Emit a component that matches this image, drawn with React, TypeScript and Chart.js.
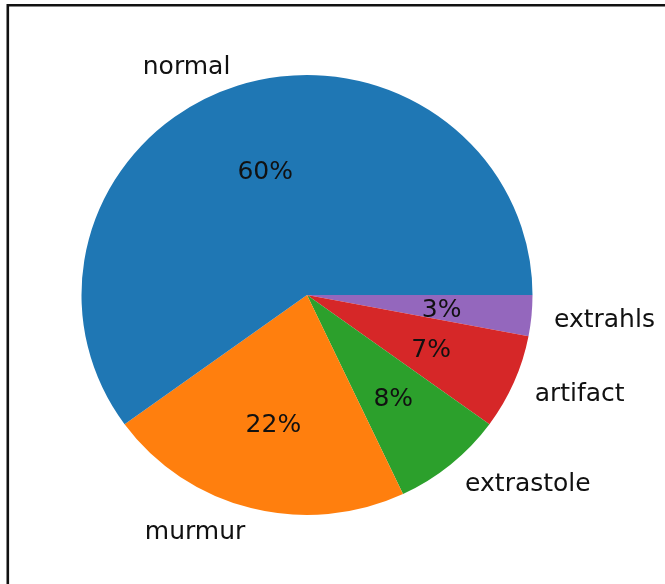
import React, { useEffect, useRef } from "react";
import { Chart, registerables } from "chart.js";

Chart.register(...registerables);

const categories = ["normal", "murmur", "extrastole", "artifact", "extrahls"];
const values = [60, 22, 8, 7, 3];
const colors = ["#1f77b4", "#ff7f0e", "#2ca02c", "#d62728", "#9467bd"];

const Y_SCALE = 220 / 225.5;
const FONT = '25px "DejaVu Sans", sans-serif';
const TEXT_DY = 3;

const ellipsePlugin = {
  id: "ellipse",
  beforeDatasetsDraw(chart: any) {
    const arc = chart.getDatasetMeta(0).data[0];
    const ctx = chart.ctx;
    ctx.save();
    ctx.translate(arc.x, arc.y);
    ctx.scale(1, Y_SCALE);
    ctx.translate(-arc.x, -arc.y);
  },
  afterDatasetsDraw(chart: any) {
    chart.ctx.restore();
  },
};

const labelPlugin = {
  id: "pieLabels",
  afterDraw(chart: any) {
    const ctx = chart.ctx;
    const meta = chart.getDatasetMeta(0);
    const data = chart.data.datasets[0].data as number[];
    const lbls = chart.data.labels as string[];
    const total = data.reduce((a, b) => a + b, 0);
    ctx.save();
    // border
    ctx.strokeStyle = "#111";
    ctx.lineWidth = 2.6;
    ctx.beginPath();
    ctx.moveTo(7.8, 700);
    ctx.lineTo(7.8, 5.3);
    ctx.lineTo(700, 5.3);
    ctx.stroke();

    ctx.font = FONT;
    ctx.fillStyle = "#111";
    ctx.textBaseline = "middle";
    meta.data.forEach((arc: any, i: number) => {
      const mid = (arc.startAngle + arc.endAngle) / 2;
      const r = arc.outerRadius;
      const c = Math.cos(mid);
      const s = Math.sin(mid);
      // outer label
      const lx = arc.x + 1.1 * r * c;
      const ly = arc.y + 1.1 * r * s * Y_SCALE + TEXT_DY;
      ctx.textAlign = c >= 0 ? "left" : "right";
      ctx.fillText(lbls[i], lx, ly);
      // percent
      const px = arc.x + 0.6 * r * c;
      const py = arc.y + 0.6 * r * s * Y_SCALE + TEXT_DY;
      ctx.textAlign = "center";
      ctx.fillText(Math.round((data[i] / total) * 100) + "%", px, py);
    });
    ctx.restore();
  },
};

export default function App() {
  const ref = useRef<HTMLCanvasElement | null>(null);
  useEffect(() => {
    if (!ref.current) return;
    const revLabels = [...categories].reverse();
    const revValues = [...values].reverse();
    const revColors = [...colors].reverse();
    const chart = new Chart(ref.current, {
      type: "pie",
      data: {
        labels: revLabels,
        datasets: [
          {
            data: revValues,
            backgroundColor: revColors,
            borderWidth: 0,
          },
        ],
      },
      options: {
        animation: false,
        responsive: false,
        rotation: 90,
        layout: {
          padding: { left: 81.5, top: 69.5, right: 132.5, bottom: 63.5 },
        },
        plugins: {
          legend: { display: false },
          tooltip: { enabled: false },
        },
      },
      plugins: [ellipsePlugin, labelPlugin],
    });
    return () => chart.destroy();
  }, []);
  return (
    <div style={{ position: "absolute", left: 0, top: 0, width: 665, height: 584, background: "#fff" }}>
      <canvas ref={ref} width={665} height={584} style={{ width: 665, height: 584 }} />
    </div>
  );
}
